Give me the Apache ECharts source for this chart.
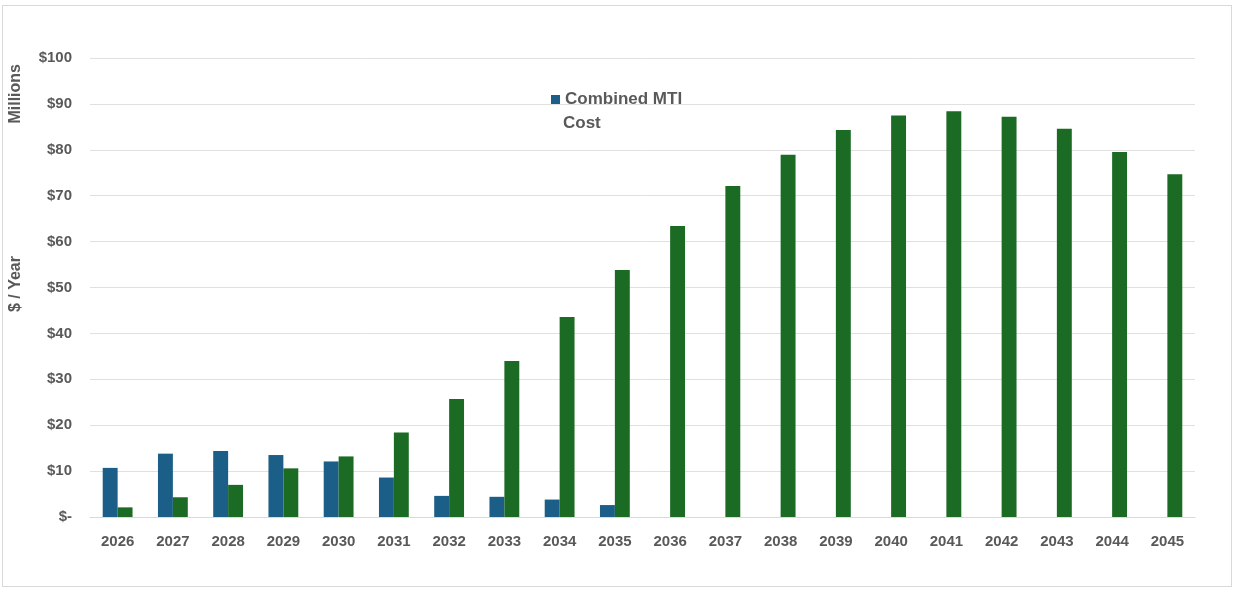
<!DOCTYPE html>
<html>
<head>
<meta charset="utf-8">
<style>
html,body{margin:0;padding:0;background:#fff;}
#frame{position:absolute;left:2px;top:5px;width:1230px;height:582px;border:1px solid #d9d9d9;box-sizing:border-box;}
#chart{position:absolute;left:0;top:0;width:1233px;height:590px;}
</style>
<script src="https://cdn.jsdelivr.net/npm/echarts@6/dist/echarts.min.js"></script>
</head>
<body>
<div id="frame"></div>
<div id="chart"></div>
<script>
const years = ['2026','2027','2028','2029','2030','2031','2032','2033','2034','2035','2036','2037','2038','2039','2040','2041','2042','2043','2044','2045'];
const mtiCost = [10.7,13.8,14.4,13.5,12.1,8.6,4.6,4.4,3.8,2.6,null,null,null,null,null,null,null,null,null,null];
const otherCost = [2.1,4.3,7.0,10.6,13.2,18.4,25.7,34.0,43.6,53.8,63.4,72.1,78.9,84.3,87.5,88.4,87.2,84.6,79.5,74.7];
const yTicks = [0,10,20,30,40,50,60,70,80,90,100];

const FONT = 'Liberation Sans, Arial, sans-serif';
const chart = echarts.init(document.getElementById('chart'));
const labelStyle = {color:'#595959', fontFamily:FONT, fontWeight:'bold', fontSize:15};
chart.setOption({
  animation:false,
  grid:{left:90, right:38, top:58, bottom:73, containLabel:false},
  legend:{
    data:['Combined MTI'],
    left:546, top:86,
    itemWidth:9, itemHeight:9,
    icon:'rect',
    textStyle:{color:'#595959', fontFamily:FONT, fontWeight:'bold', fontSize:17}
  },
  xAxis:{
    type:'category', data:years,
    axisLine:{lineStyle:{color:'#d9d9d9'}},
    axisTick:{show:false},
    axisLabel:Object.assign({margin:17}, labelStyle)
  },
  yAxis:{
    type:'value', min:0, max:100, interval:10,
    axisLine:{show:false}, axisTick:{show:false},
    splitLine:{lineStyle:{color:'#e0e0e0'}},
    axisLabel:Object.assign({margin:18, formatter:v => v===0 ? '$-' : '$'+v}, labelStyle)
  },
  graphic:[
    {type:'text', left:563, top:115, style:{text:'Cost', fill:'#595959', font:'bold 17px '+FONT}},
    {type:'text', left:8, top:64, rotation:Math.PI/2, style:{text:'Millions', fill:'#595959', font:'bold 16px '+FONT}},
    {type:'text', left:8, top:256, rotation:Math.PI/2, style:{text:'$ / Year', fill:'#595959', font:'bold 16px '+FONT}}
  ],
  series:[
    {name:'Combined MTI', type:'bar', data:mtiCost, barGap:'0%', barCategoryGap:'46%', itemStyle:{color:'#1b5e87'}},
    {name:'Other', type:'bar', data:otherCost, barGap:'0%', barCategoryGap:'46%', itemStyle:{color:'#1c6b25'}}
  ]
});
</script>
</body>
</html>
